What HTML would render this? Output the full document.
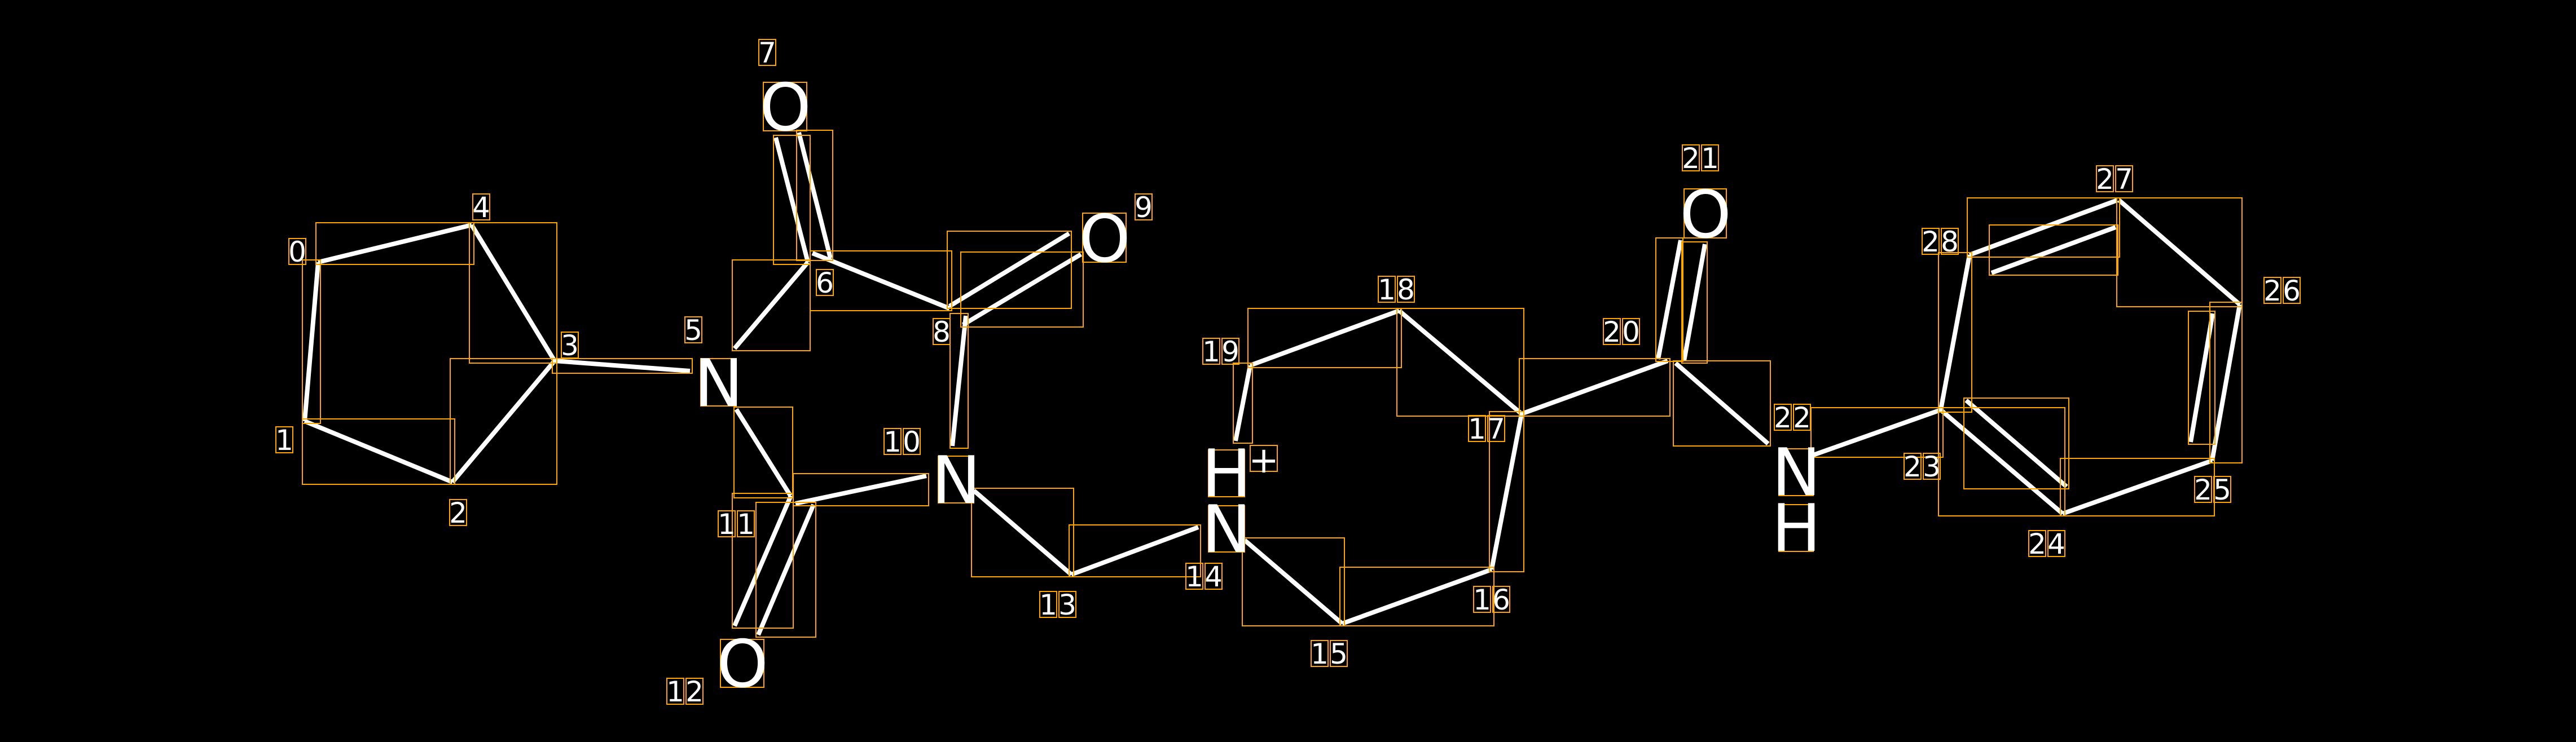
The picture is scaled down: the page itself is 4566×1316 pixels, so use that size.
<!DOCTYPE html>
<html><head><meta charset="utf-8"><style>
html,body{margin:0;padding:0;background:#000;}
svg{display:block;}
text{font-family:"DejaVu Sans","Liberation Sans",sans-serif;fill:#fff;}
</style></head><body>
<svg id="s" width="4566" height="1316" viewBox="0 0 4566 1316" xmlns="http://www.w3.org/2000/svg">
<rect width="4566" height="1316" fill="#000"/>
<g id="bonds" stroke="#fff" stroke-width="8" stroke-linecap="butt">
<line x1="564" y1="465" x2="836" y2="399"/>
<line x1="836" y1="399" x2="983" y2="640"/>
<line x1="983" y1="640" x2="802" y2="855"/>
<line x1="802" y1="855" x2="540" y2="747"/>
<line x1="540" y1="747" x2="564" y2="465"/>
<line x1="983" y1="640" x2="1223" y2="658"/>
<line x1="1302" y1="618" x2="1432" y2="465"/>
<line x1="1375" y1="244" x2="1432" y2="465"/>
<line x1="1416" y1="235" x2="1472" y2="458"/>
<line x1="1440" y1="449" x2="1683" y2="547"/>
<line x1="1683" y1="543" x2="1895" y2="414"/>
<line x1="1707" y1="576" x2="1916" y2="451"/>
<line x1="1712" y1="560" x2="1688" y2="791"/>
<line x1="1305" y1="726" x2="1401" y2="879"/>
<line x1="1410" y1="893" x2="1642" y2="844"/>
<line x1="1402" y1="879" x2="1302" y2="1110"/>
<line x1="1442" y1="895" x2="1344" y2="1126"/>
<line x1="1726" y1="870" x2="1899" y2="1019"/>
<line x1="1899" y1="1019" x2="2124" y2="935"/>
<line x1="2206" y1="958" x2="2379" y2="1106"/>
<line x1="2379" y1="1106" x2="2644" y2="1010"/>
<line x1="2644" y1="1010" x2="2697" y2="734"/>
<line x1="2697" y1="734" x2="2480" y2="551"/>
<line x1="2480" y1="551" x2="2216" y2="648"/>
<line x1="2216" y1="648" x2="2190" y2="782"/>
<line x1="2697" y1="734" x2="2956" y2="640"/>
<line x1="2939" y1="637" x2="2979" y2="426"/>
<line x1="2985" y1="640" x2="3022" y2="433"/>
<line x1="2970" y1="644" x2="3134" y2="787"/>
<line x1="3214" y1="807" x2="3440" y2="727"/>
<line x1="3440" y1="727" x2="3491" y2="452"/>
<line x1="3491" y1="452" x2="3753" y2="355"/>
<line x1="3530" y1="484" x2="3750" y2="403"/>
<line x1="3756" y1="355" x2="3970" y2="540"/>
<line x1="3970" y1="540" x2="3921" y2="817"/>
<line x1="3922" y1="556" x2="3883" y2="784"/>
<line x1="3921" y1="817" x2="3656" y2="911"/>
<line x1="3656" y1="911" x2="3440" y2="727"/>
<line x1="3663" y1="863" x2="3485" y2="710"/>
</g>
<g id="boxes" fill="none" stroke="#ffa500" stroke-width="2"></g>
<g font-size="116" text-anchor="middle">
<text x="1274" y="720">N</text>
<text x="1392" y="231">O</text>
<text x="1958" y="464">O</text>
<text x="1695" y="892">N</text>
<text x="1316" y="1218">O</text>
<text x="2174" y="880">H</text>
<text x="2174" y="979">N</text>
<text x="3023" y="421">O</text>
<text x="3184" y="878">N</text>
<text x="3184" y="977">H</text>
</g>
<text x="2240" y="838" font-size="64" text-anchor="middle">+</text>
<g id="labels" font-size="50" text-anchor="middle"></g>
</svg>
<script>
var NS="http://www.w3.org/2000/svg";
var bx=document.getElementById("boxes");
function R(x,y,w,h){var r=document.createElementNS(NS,"rect");r.setAttribute("x",x);r.setAttribute("y",y);r.setAttribute("width",Math.max(w,4));r.setAttribute("height",Math.max(h,4));bx.appendChild(r);}
var ls=document.querySelectorAll("#bonds line");
ls.forEach(function(l){var x1=+l.getAttribute("x1"),y1=+l.getAttribute("y1"),x2=+l.getAttribute("x2"),y2=+l.getAttribute("y2");
R(Math.min(x1,x2)-4,Math.min(y1,y2)-4,Math.abs(x2-x1)+8,Math.abs(y2-y1)+8);});
[[1242,636,63,84],[1353,146,77,86],[1919,378,77,87],[1663,809,63,83],[1277,1134,77,85],[2142,798,64,83],[2142,897,64,82],[2216,790,48,46],[2985,335,75,87],[3153,796,61,83],[3153,895,61,83]].forEach(function(a){R(a[0],a[1],a[2],a[3]);});
var lab=[[0,527,446],[1,504,780],[2,812,909],[3,1010,612],[4,853,367],[5,1229,585],[6,1462,501],[7,1360,93],[8,1669,588],[9,2027,367],[10,1599,783],[11,1305,929],[12,1214,1226],[13,1875,1072],[14,2134,1022],[15,2356,1159],[16,2644,1063],[17,2635,760],[18,2475,513],[19,2164,623],[20,2874,588],[21,3014,280],[22,3177,740],[23,3407,827],[24,3628,964],[25,3922,868],[26,4045,515],[27,3748,317],[28,3439,428]];
var lg=document.getElementById("labels");
lab.forEach(function(a){var s=String(a[0]);var cw=34;var x0=a[1]-s.length*cw/2;
for(var i=0;i<s.length;i++){var cx=x0+cw*i+cw/2;var t=document.createElementNS(NS,"text");t.setAttribute("x",cx);t.setAttribute("y",a[2]+18);t.textContent=s[i];lg.appendChild(t);R(cx-15,a[2]-23,30,46);}
});
</script>
</body></html>
